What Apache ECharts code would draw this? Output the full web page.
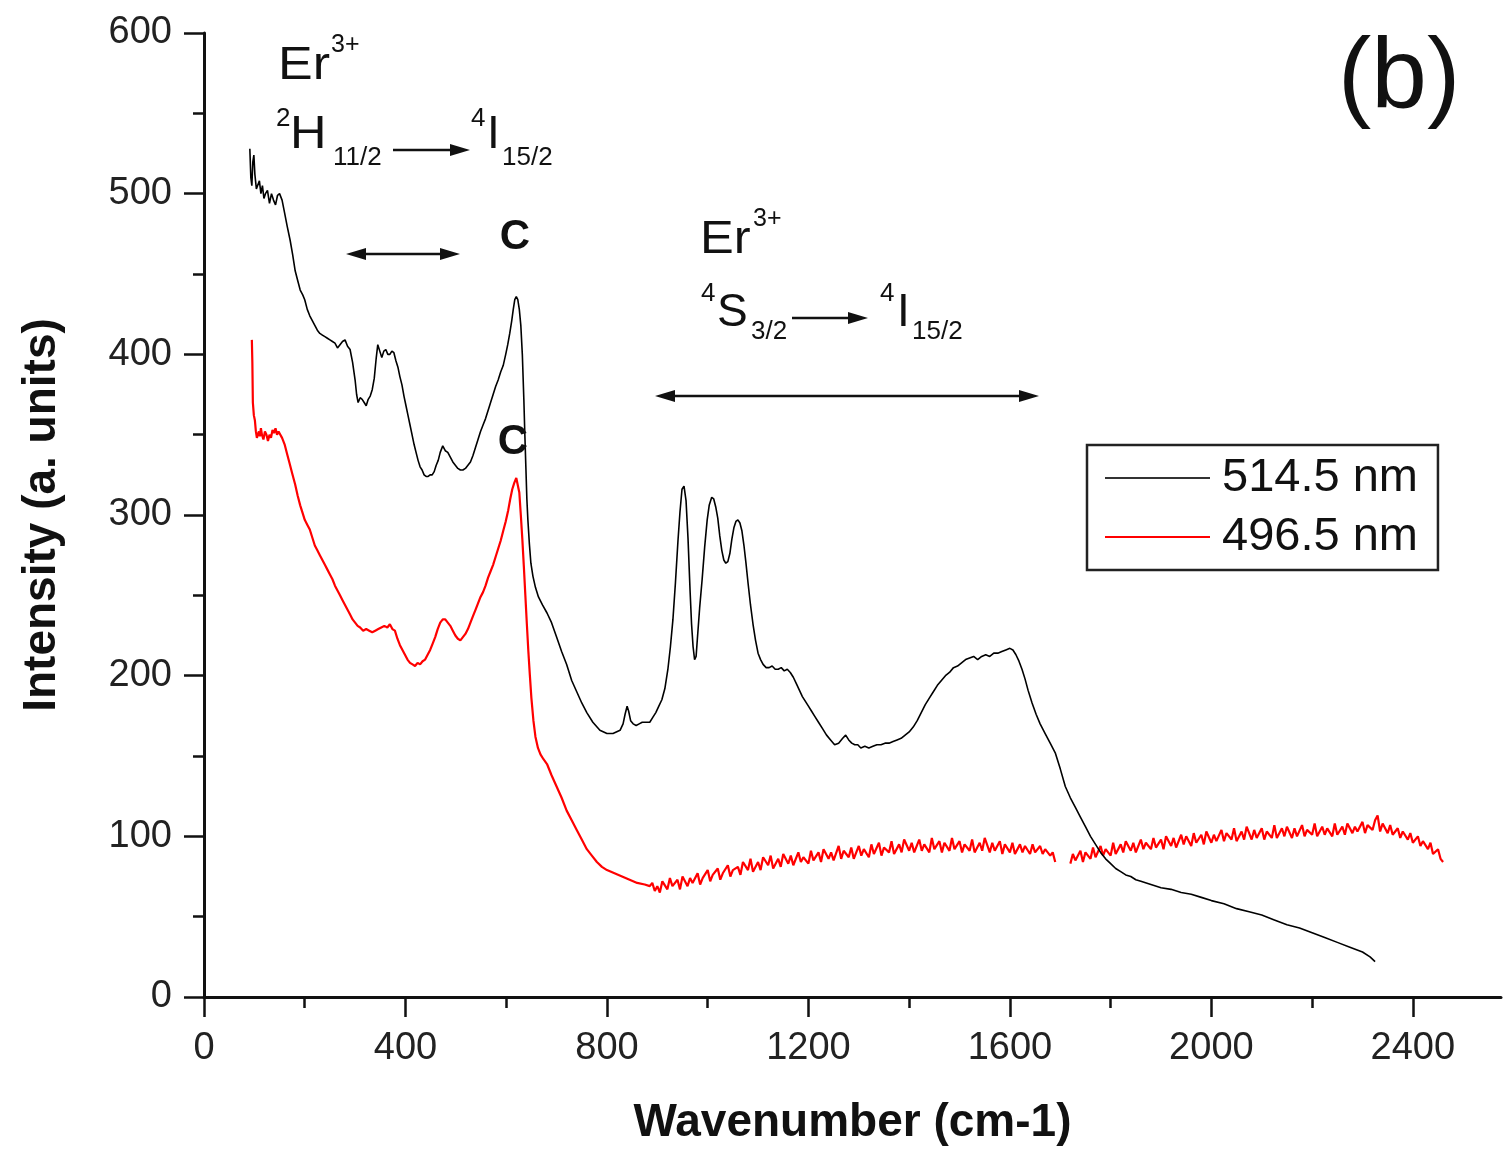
<!DOCTYPE html>
<html>
<head>
<meta charset="utf-8">
<script src="https://cdn.jsdelivr.net/npm/echarts@6/dist/echarts.min.js"></script>
<style>
  html, body { margin: 0; padding: 0; background: #fff; }
  #chart { width: 1506px; height: 1152px; }
</style>
</head>
<body>
<div id="chart"></div>
<script>
// spectra: [wavenumber, intensity]
const black514 = [
  [91,528],[93,510],[95,505],[97,520],[99,524],[101,512],[104,503],[107,502],[110,508],[113,500],
  [116,505],[119,497],[122,500],[126,502],[130,494],[134,500],[138,496],[142,493],[146,499],[150,500],
  [155,496],[160,488],[165,480],[171,471],[176,462],[181,452],[186,446],[191,440],[196,437],[200,434],
  [205,428],[210,424],[215,421],[220,418],[225,415],[230,413],[235,412],[240,411],[245,410],[250,409],
  [255,408],[260,407],[265,404],[270,406],[275,408],[280,409],[285,405],[290,403],[295,395],[300,384],
  [303,375],[306,370],[310,373],[314,372],[318,370],[322,368],[326,372],[330,374],[334,378],[338,385],
  [342,398],[345,406],[349,402],[353,398],[357,402],[361,403],[365,400],[369,400],[373,402],[377,401],
  [381,396],[385,392],[389,386],[393,381],[397,374],[401,368],[405,362],[409,356],[413,350],[417,344],
  [421,339],[425,334],[429,330],[433,328],[437,325],[441,324],[445,324],[449,325],[453,325],[457,327],
  [461,331],[465,334],[469,339],[474,343],[479,340],[484,339],[489,336],[494,333],[499,331],[504,329],
  [509,328],[514,328],[519,329],[524,331],[529,333],[534,337],[539,342],[544,347],[549,352],[554,356],
  [559,360],[564,365],[569,370],[574,375],[579,380],[584,384],[589,389],[594,393],[599,400],[603,406],
  [607,413],[611,421],[614,428],[617,434],[620,436],[623,434],[626,428],[629,418],[632,400],[635,372],
  [637,350],[639,330],[641,310],[643,297],[646,282],[649,270],[653,262],[658,255],[664,249],[672,244],
  [681,239],[690,233],[700,224],[710,215],[720,207],[730,197],[740,190],[750,183],[760,177],[772,171],
  [786,166],[800,164],[812,164],[826,166],[832,170],[836,176],[840,181],[843,178],[847,172],[852,170],
  [858,169],[864,170],[870,171],[877,171],[885,171],[891,174],[897,177],[903,181],[909,185],[915,192],
  [921,204],[926,218],[931,235],[936,258],[941,284],[945,302],[949,316],[953,318],[957,309],[961,285],
  [965,253],[968,232],[971,218],[974,210],[977,212],[980,225],[984,242],[989,260],[994,280],[999,297],
  [1003,306],[1008,311],[1012,310],[1016,305],[1020,298],[1024,287],[1028,278],[1032,272],[1036,270],[1040,271],
  [1044,276],[1048,285],[1052,292],[1056,296],[1060,297],[1064,295],[1068,290],[1072,281],[1076,270],[1080,258],
  [1085,244],[1090,232],[1095,222],[1100,214],[1105,210],[1110,207],[1116,205],[1122,205],[1128,206],[1134,204],
  [1140,204],[1146,205],[1152,203],[1158,204],[1164,202],[1170,199],[1176,195],[1182,191],[1188,187],[1194,184],
  [1200,181],[1206,178],[1212,175],[1220,171],[1228,167],[1236,163],[1244,160],[1252,157],[1260,158],[1268,161],
  [1274,163],[1280,160],[1286,158],[1292,157],[1298,157],[1304,155],[1312,156],[1320,155],[1328,156],[1336,157],
  [1344,157],[1352,158],[1360,158],[1368,159],[1376,160],[1384,161],[1392,163],[1400,165],[1408,168],[1416,172],
  [1424,177],[1432,182],[1440,186],[1448,190],[1456,194],[1464,197],[1472,200],[1480,202],[1488,205],[1496,206],
  [1504,208],[1512,210],[1520,211],[1528,212],[1536,210],[1544,212],[1552,213],[1560,212],[1568,214],[1576,214],
  [1584,215],[1592,216],[1600,217],[1606,216],[1612,213],[1618,209],[1624,204],[1630,198],[1636,191],[1644,183],
  [1652,176],[1660,170],[1670,164],[1680,158],[1690,152],[1700,142],[1710,131],[1720,124],[1730,118],[1740,112],
  [1750,106],[1760,100],[1770,95],[1780,90],[1790,86],[1800,83],[1810,80],[1820,78],[1830,76],[1840,75],
  [1850,73],[1860,72],[1880,70],[1900,68],[1920,67],[1940,65],[1960,64],[1980,62],[2000,60],[2025,58],
  [2050,55],[2075,53],[2100,51],[2125,48],[2150,45],[2175,43],[2200,40],[2225,37],[2250,34],[2275,31],
  [2300,28],[2315,25],[2325,22]
];

const red496Low = [
  [95,409],[96,395],[97,370],[99,362],[101,359],[103,352],[105,348],[107,347],[109,352],[111,349],
  [113,354],[115,350],[118,347],[121,352],[124,350],[127,346],[130,350],[133,348],[136,353],[139,351],
  [142,354],[145,350],[148,352],[151,351],[155,348],[160,344],[165,338],[170,332],[175,326],[181,319],
  [186,312],[191,306],[196,301],[200,297],[205,294],[210,291],[215,286],[220,281],[225,278],[230,275],
  [235,272],[240,269],[245,266],[250,263],[255,260],[260,256],[265,253],[270,250],[275,247],[280,244],
  [285,241],[290,238],[295,235],[300,233],[305,231],[310,230],[316,228],[322,229],[328,228],[334,227],
  [340,228],[346,229],[352,230],[358,231],[364,230],[369,232],[374,229],[379,228],[384,223],[389,219],
  [394,216],[399,213],[404,210],[409,208],[414,207],[419,206],[424,208],[429,207],[434,209],[439,210],
  [444,213],[449,216],[454,220],[459,224],[464,229],[469,233],[474,235],[479,235],[484,233],[489,231],
  [494,228],[499,225],[504,223],[509,222],[514,224],[519,226],[524,229],[529,233],[534,237],[539,241],
  [544,245],[549,249],[554,252],[559,256],[564,261],[569,265],[574,269],[579,274],[584,279],[589,284],
  [594,290],[599,296],[604,303],[608,310],[612,316],[616,320],[620,323],[623,322],[626,314],[629,300],
  [632,285],[635,268],[638,250],[641,232],[644,215],[647,200],[650,186],[654,172],[658,162],[663,155],
  [668,151],[674,148],[681,145],[690,138],[700,131],[710,124],[720,116],[730,110],[740,104],[750,98],
  [760,92],[770,88],[780,84],[790,81],[800,79],[815,77],[830,75],[845,73],[860,71],[875,70],[885,69]
];

const red496MidA = [
  [890,71],[895,66],[900,69],[905,65],[910,72],[920,67],[925,74],[930,69],[940,73],[945,67],
  [950,75],[960,69],[965,74],[970,71],[980,77],[985,70],[990,74],[1000,79],[1005,72],[1010,76],
  [1020,80],[1025,73],[1030,77],[1040,82],[1045,75],[1050,79],[1060,81],[1065,76],[1070,84],[1080,79],
  [1085,86],[1090,78],[1100,84],[1105,79],[1110,87],[1120,82],[1125,88],[1130,80],[1140,86],[1145,81],
  [1150,89],[1160,83],[1165,88],[1170,82],[1180,90],[1185,84],[1190,87],[1200,83],[1205,91],[1210,85],
  [1220,90],[1225,84],[1230,92],[1240,86],[1245,90],[1250,85],[1260,94],[1265,86],[1270,91],[1280,87],
  [1285,93],[1290,86],[1300,94],[1305,88],[1310,92],[1320,87],[1325,95],[1330,89],[1340,96],[1345,88],
  [1350,93],[1360,90],[1365,97],[1370,89],[1380,95],[1385,90],[1390,98],[1400,91],[1405,96],[1410,90],
  [1420,98],[1425,91],[1430,95],[1440,90],[1445,99],[1450,92],[1460,97],[1465,90],[1470,96],[1480,91],
  [1485,99],[1490,92],[1500,97],[1505,90],[1510,95],[1520,91],[1525,98],[1530,90],[1540,96],[1545,91],
  [1550,99],[1560,90],[1565,96],[1570,91],[1580,97],[1585,89],[1590,95],[1600,90],[1605,96],[1610,89],
  [1620,95],[1625,90],[1630,94],[1640,89],[1645,95],[1650,90],[1660,94],[1665,89],[1670,92],[1680,88],
  [1685,90],[1690,84]
];

const red496MidB = [
  [1720,83],[1725,89],[1730,85],[1740,91],[1745,84],[1750,90],[1760,86],[1765,93],[1770,87],[1780,94],
  [1785,88],[1790,92],[1800,88],[1805,96],[1810,89],[1820,95],[1825,90],[1830,97],[1840,91],[1845,96],
  [1850,90],[1860,98],[1865,92],[1870,96],[1880,92],[1885,99],[1890,93],[1900,98],[1905,92],[1910,100],
  [1920,94],[1925,99],[1930,93],[1940,101],[1945,95],[1950,100],[1960,94],[1965,102],[1970,96],[1980,101],
  [1985,95],[1990,103],[2000,96],[2005,101],[2010,97],[2020,104],[2025,97],[2030,102],[2040,98],[2045,105],
  [2050,97],[2060,103],[2065,98],[2070,106],[2080,98],[2085,104],[2090,99],[2100,105],[2105,98],[2110,103],
  [2120,99],[2125,107],[2130,99],[2140,105],[2145,100],[2150,106],[2160,99],[2165,105],[2170,100],[2180,107],
  [2185,100],[2190,104],[2200,101],[2205,108],[2210,100],[2220,106],[2225,101],[2230,105],[2240,100],[2245,108],
  [2250,101],[2260,106],[2265,101],[2270,108],[2280,102],[2285,106],[2290,103],[2300,109],[2305,102],[2310,107],
  [2320,104],[2325,110],[2330,113],[2335,103],[2340,108],[2350,102],[2355,107],[2360,101],[2370,105],[2375,99],
  [2380,103],[2390,98],[2395,102],[2400,96],[2410,100],[2415,94],[2420,97],[2430,92],[2435,96],[2440,89],
  [2450,92],[2455,86],[2460,84]
];

const majorTicksX = [0, 400, 800, 1200, 1600, 2000, 2400];
const minorTicksX = [200, 600, 1000, 1400, 1800, 2200];
const seriesNames = ['514.5 nm', '496.5 nm'];

const FONT = '"Liberation Sans", Arial, sans-serif';
const INK = '#111';

function txt(x, y, s, size, bold, align, sx) {
  return {
    type: 'text', x: x, y: y, z: 10,
    scaleX: sx || 1,
    style: {
      text: s, fill: INK,
      font: (bold ? 'bold ' : '') + size + 'px ' + FONT,
      align: align || 'left', verticalAlign: 'middle'
    }
  };
}

function line(x1, x2, y) {
  return { type: 'line', z: 10, shape: { x1: x1, y1: y, x2: x2, y2: y }, style: { stroke: INK, lineWidth: 2.5 } };
}

function head(x, y, dir) {
  // dir 1 -> points right, -1 -> points left
  return {
    type: 'polygon', z: 10,
    shape: { points: [[x, y], [x - dir * 20, y - 6], [x - dir * 20, y + 6]] },
    style: { fill: INK }
  };
}

const annotations = [
  txt(278, 66, 'Er', 46, false, 'left', 1.13), txt(331, 45, '3+', 25),
  txt(276, 119, '2', 26), txt(290, 135, 'H', 46, false, 'left', 1.1), txt(333, 158, '11/2', 26),
  line(393, 455, 150), head(470, 150, 1),
  txt(471, 119, '4', 26), txt(487, 135, 'I', 46), txt(502, 158, '15/2', 26),
  line(360, 446, 254), head(346, 254, -1), head(460, 254, 1),
  txt(515, 237, 'C', 42, true, 'center'),
  txt(513, 442, 'C', 42, true, 'center'),
  txt(700, 240, 'Er', 46, false, 'left', 1.1), txt(753, 219, '3+', 25),
  txt(701, 294, '4', 26), txt(717, 313, 'S', 46), txt(751, 332, '3/2', 26),
  line(792, 852, 318), head(868, 318, 1),
  txt(880, 294, '4', 26), txt(897, 313, 'I', 46), txt(912, 332, '15/2', 26),
  line(672, 1022, 396), head(655, 396, -1), head(1039, 396, 1),
  txt(1338, 80, '(b)', 100)
];

const chart = echarts.init(document.getElementById('chart'), null, { renderer: 'canvas' });

const redAll = red496Low.concat(red496MidA, [[1705, '-']], red496MidB);

chart.setOption({
  animation: false,
  backgroundColor: '#fff',
  grid: { left: 204, right: 5, top: 33, bottom: 155, containLabel: false },
  legend: {
    data: seriesNames,
    orient: 'vertical',
    left: 1087, top: 445,
    borderColor: '#222', borderWidth: 2.5,
    padding: [8, 20, 8, 18],
    itemGap: 9,
    itemWidth: 105, itemHeight: 2,
    icon: 'rect',
    textStyle: { fontFamily: FONT, fontSize: 47, lineHeight: 50, color: INK, padding: [0, 0, 0, 7] }
  },
  xAxis: [{
    type: 'value', min: 0, max: 2575,
    name: 'Wavenumber (cm-1)', nameLocation: 'middle', nameGap: 103,
    nameTextStyle: { fontFamily: FONT, fontSize: 46, fontWeight: 'bold', color: INK },
    axisLine: { show: true, onZero: false, lineStyle: { color: INK, width: 3 } },
    axisTick: { show: true, inside: false, length: 20, customValues: majorTicksX, lineStyle: { color: INK, width: 2.5 } },
    axisLabel: {
      customValues: majorTicksX, margin: 33, fontFamily: FONT, fontSize: 38, color: '#222',
      formatter: function (v) { return String(v); }
    },
    splitLine: { show: false }
  }, {
    type: 'value', min: 0, max: 2575, position: 'bottom',
    axisLine: { show: false },
    axisTick: { show: true, length: 11, customValues: minorTicksX, lineStyle: { color: INK, width: 2.5 } },
    axisLabel: { show: false },
    splitLine: { show: false }
  }],
  yAxis: {
    type: 'value', min: 0, max: 600, interval: 100,
    name: 'Intensity (a. units)', nameLocation: 'middle', nameGap: 139,
    nameTextStyle: { fontFamily: FONT, fontSize: 46, fontWeight: 'bold', color: INK },
    axisLine: { show: true, lineStyle: { color: INK, width: 3 } },
    axisTick: { show: true, length: 20, lineStyle: { color: INK, width: 2.5 } },
    minorTick: { show: true, splitNumber: 2, length: 11, lineStyle: { color: INK, width: 2.5 } },
    axisLabel: { margin: 32, fontFamily: FONT, fontSize: 38, color: '#222' },
    splitLine: { show: false },
    minorSplitLine: { show: false }
  },
  series: [{
    name: seriesNames[1], type: 'line', data: redAll,
    showSymbol: false, symbol: 'none', connectNulls: false,
    itemStyle: { color: '#ff0000' },
    lineStyle: { color: '#ff0000', width: 2.2 }
  }, {
    name: seriesNames[0], type: 'line', data: black514,
    showSymbol: false, symbol: 'none',
    itemStyle: { color: '#333' },
    lineStyle: { color: '#000', width: 1.6 }
  }],
  graphic: annotations
});
</script>
</body>
</html>
